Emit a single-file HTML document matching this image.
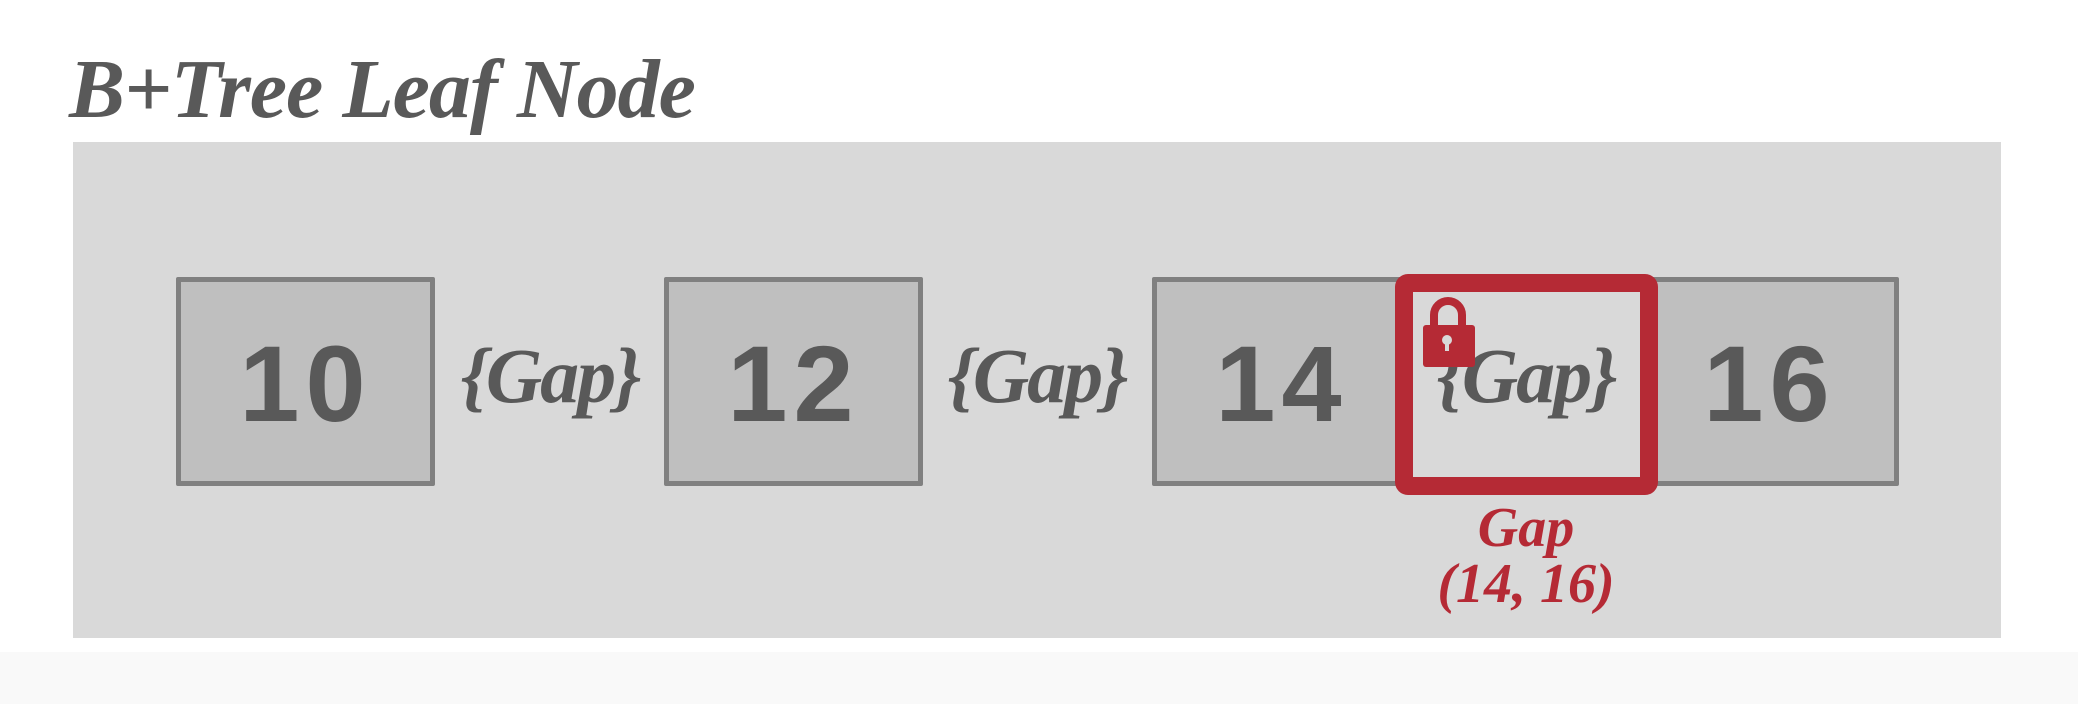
<!DOCTYPE html>
<html><head><meta charset="utf-8"><style>
html,body{margin:0;padding:0;}
body{width:2078px;height:704px;background:#fff;position:relative;overflow:hidden;font-family:"Liberation Serif",serif;}
.abs{position:absolute;}
.band{left:0;top:652px;width:2078px;height:52px;background:#f9f9f9;}
.title{left:69px;top:40px;font-size:84px;font-weight:bold;font-style:italic;color:#595959;white-space:nowrap;line-height:100px;letter-spacing:-1px;}
.panel{left:73px;top:142px;width:1928px;height:496px;background:#d9d9d9;}
.box{top:277px;width:249px;height:199px;background:#bfbfbf;border:5px solid #808080;border-radius:2px;}
.num{top:279px;width:259px;height:209px;line-height:209px;text-align:center;font-family:"Liberation Sans",sans-serif;font-weight:bold;font-size:108px;color:#595959;letter-spacing:6px;}
.gap{top:328px;width:240px;text-align:center;font-size:78px;font-style:italic;font-weight:bold;color:#595959;line-height:96px;letter-spacing:-2px;}
.red{left:1395px;top:274px;width:227px;height:185px;border:18px solid #b52a35;border-radius:13px;background:#d9d9d9;}
.lbl{left:1406px;top:500px;width:240px;text-align:center;font-size:56px;font-style:italic;font-weight:bold;color:#b52a35;line-height:56px;}
</style></head><body>
<div class="abs band"></div>
<div class="abs title">B+Tree Leaf Node</div>
<div class="abs panel"></div>
<div class="abs box" style="left:176px"></div>
<div class="abs box" style="left:664px"></div>
<div class="abs box" style="left:1152px"></div>
<div class="abs box" style="left:1640px"></div>
<div class="abs num" style="left:176px">10</div>
<div class="abs num" style="left:664px">12</div>
<div class="abs num" style="left:1152px">14</div>
<div class="abs num" style="left:1640px">16</div>
<div class="abs gap" style="left:430px">{Gap}</div>
<div class="abs gap" style="left:917px">{Gap}</div>
<div class="abs red"></div>
<div class="abs gap" style="left:1406px">{Gap}</div>
<svg class="abs" style="left:1420px;top:295px" width="60" height="75" viewBox="0 0 60 75">
<path d="M14 32 V20 a14 14 0 0 1 28 0 V32" fill="none" stroke="#b52a35" stroke-width="8"/>
<rect x="3" y="30" width="52" height="42" rx="3" fill="#b52a35"/>
<circle cx="27" cy="45" r="5" fill="#d9d9d9"/>
<rect x="25" y="45" width="4" height="11" fill="#d9d9d9"/>
</svg>
<div class="abs lbl">Gap<br>(14, 16)</div>
</body></html>
